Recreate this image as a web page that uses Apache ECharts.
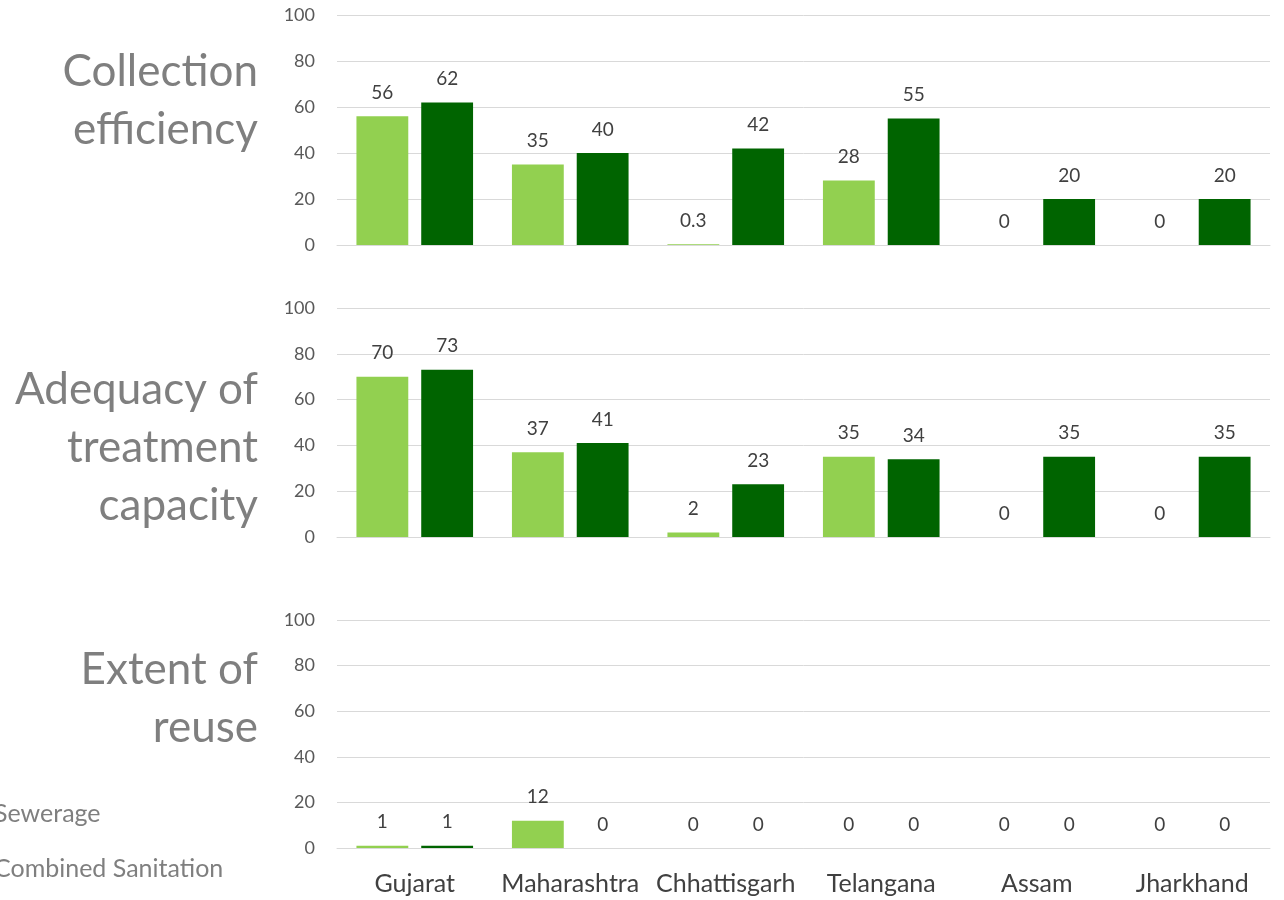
<!DOCTYPE html>
<html>
<head>
<meta charset="utf-8">
<script src="https://cdn.jsdelivr.net/npm/echarts@6/dist/echarts.min.js"></script>
<style>
  html, body { margin: 0; padding: 0; background: #fff; }
  #chart { width: 1284px; height: 900px; }
</style>
</head>
<body>
<div id="chart"></div>
<script>
// States compared
const states = ['Gujarat', 'Maharashtra', 'Chhattisgarh', 'Telangana', 'Assam', 'Jharkhand'];

// Collection efficiency (%)
const collectionSewerage = [56, 35, 0.3, 28, 0, 0];
const collectionCombined = [62, 40, 42, 55, 20, 20];

// Adequacy of treatment capacity (%)
const adequacySewerage = [70, 37, 2, 35, 0, 0];
const adequacyCombined = [73, 41, 23, 34, 35, 35];

// Extent of reuse (%)
const reuseSewerage = [1, 12, 0, 0, 0, 0];
const reuseCombined = [1, 0, 0, 0, 0, 0];

const panelTitles = [
  'Collection\nefficiency',
  'Adequacy of\ntreatment\ncapacity',
  'Extent of\nreuse'
];

const FONT = 'Lato, "Open Sans", sans-serif';
const LIGHT = '#92D050';
const DARK = '#006400';

const grids = [
  { left: 337, right: 14, top: 15, height: 230 },
  { left: 337, right: 14, top: 308, height: 229 },
  { left: 337, right: 14, top: 620, height: 228 }
];

const xAxes = grids.map((g, i) => ({
  type: 'category',
  gridIndex: i,
  data: states,
  axisLine: { show: true, lineStyle: { color: '#d9d9d9', width: 1 } },
  axisTick: { show: false },
  axisLabel: {
    show: i === 2,
    color: '#404040',
    fontFamily: FONT,
    fontSize: 25,
    margin: 23,
    interval: 0
  }
}));

const yAxes = grids.map((g, i) => ({
  type: 'value',
  gridIndex: i,
  min: 0,
  max: 100,
  interval: 20,
  axisLine: { show: false },
  axisTick: { show: false },
  axisLabel: { color: '#595959', fontFamily: FONT, fontSize: 18, margin: 22 },
  splitLine: { lineStyle: { color: '#d9d9d9', width: 1 } }
}));

const labelStyle = {
  show: true,
  position: 'top',
  distance: 14,
  color: '#404040',
  fontFamily: FONT,
  fontSize: 19
};

function barSeries(name, data, idx, color) {
  return {
    name: name,
    type: 'bar',
    xAxisIndex: idx,
    yAxisIndex: idx,
    data: data,
    itemStyle: { color: color },
    barGap: '25%',
    barCategoryGap: '25%',
    label: labelStyle
  };
}

const series = [
  barSeries('Sewerage', collectionSewerage, 0, LIGHT),
  barSeries('Combined Sanitation', collectionCombined, 0, DARK),
  barSeries('Sewerage', adequacySewerage, 1, LIGHT),
  barSeries('Combined Sanitation', adequacyCombined, 1, DARK),
  barSeries('Sewerage', reuseSewerage, 2, LIGHT),
  barSeries('Combined Sanitation', reuseCombined, 2, DARK)
];

const titleCenters = [101, 448, 699];

const chart = echarts.init(document.getElementById('chart'), null, { renderer: 'canvas' });
chart.setOption({
  animation: false,
  backgroundColor: '#ffffff',
  grid: grids,
  xAxis: xAxes,
  yAxis: yAxes,
  legend: {
    orient: 'vertical',
    left: -30,
    top: 796,
    itemWidth: 14,
    itemHeight: 14,
    itemGap: 30,
    icon: 'rect',
    data: ['Sewerage', 'Combined Sanitation'],
    textStyle: { color: '#7f7f7f', fontFamily: FONT, fontSize: 25 }
  },
  graphic: panelTitles.map((t, i) => ({
    type: 'text',
    right: 1284 - 258,
    top: titleCenters[i] - (t.split('\n').length * 58) / 2,
    style: {
      text: t,
      fill: '#7f7f7f',
      font: '44px ' + FONT,
      textAlign: 'right',
      lineHeight: 58
    }
  })),
  series: series
});
</script>
</body>
</html>
